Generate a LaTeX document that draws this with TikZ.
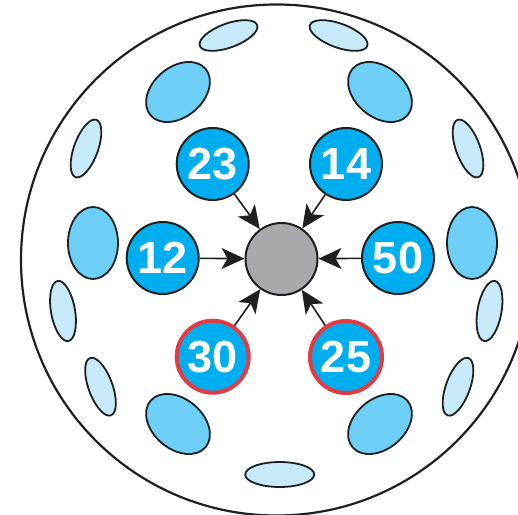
\documentclass[tikz,border=0pt]{standalone}
\usepackage{fontspec}
\setmainfont{Liberation Sans}
\usetikzlibrary{arrows.meta}

\definecolor{nodeblue}{HTML}{00AEEF}
\definecolor{darkblob}{HTML}{6DCFF6}
\definecolor{paleblob}{HTML}{C7EAFB}
\definecolor{hubgray}{HTML}{A7A9AC}
\definecolor{ringred}{HTML}{E23B44}

\begin{document}
\begin{tikzpicture}[
  x=1pt, y=-1pt,
  font=\bfseries\fontsize{45}{45}\selectfont,
  feed/.style={-{Stealth[length=23pt, width=21pt, inset=6pt]}, line width=1.6pt, draw=black!88},
  num/.style={circle, draw=black!88, line width=2pt, fill=nodeblue, text=white,
    minimum size=72pt, inner sep=0pt},
  marked/.style={num, draw=ringred, line width=4pt},
  hub/.style={circle, draw=black!88, line width=2pt, fill=hubgray, minimum size=72pt, inner sep=0pt},
  bigblob/.style={draw=black!88, line width=1.8pt, fill=darkblob},
  smallblob/.style={draw=black!88, line width=1.8pt, fill=paleblob}
]
\useasboundingbox (0,0) rectangle (518,514);
\clip (0,0) rectangle (518,514);

% Outer disc.
\draw[black!88, line width=2.2pt] (276.5,260) circle [radius=255.5pt];

% Ring of blobs.
\foreach \x/\y/\r in {178/92/40, 380/92/-40, 93/243/90, 472/243/90, 178/424/-40, 380/424/40}
  \draw[bigblob, rotate around={\r:(\x,\y)}] (\x,\y) ellipse [x radius=36pt, y radius=25pt];
\foreach \x/\y/\r in {228.5/35.5/20, 338.6/35.5/-20, 86/148.5/70, 468/148.5/-70,
    63/311/100, 489.5/311/80, 100.5/386.7/110, 458/386.7/70}
  \draw[smallblob, rotate around={\r:(\x,\y)}] (\x,\y) ellipse [x radius=30.5pt, y radius=12pt];
\draw[smallblob] (279.7,474.5) ellipse [x radius=34.5pt, y radius=12.5pt];

% Centre and numbered nodes.
\node[hub] (hub) at (281.5,259) {};
\node[num] (n23) at (212.7,164) {23};
\node[num] (n14) at (346,164) {14};
\node[num] (n12) at (162.7,258) {12};
\node[num] (n50) at (398,258) {50};
\node[marked] (n30) at (212.7,356.7) {30};
\node[marked] (n25) at (346,357) {25};

\foreach \n in {n23,n14,n12,n50,n30,n25}
  \draw[feed] (\n) -- (hub);

\end{tikzpicture}
\end{document}
